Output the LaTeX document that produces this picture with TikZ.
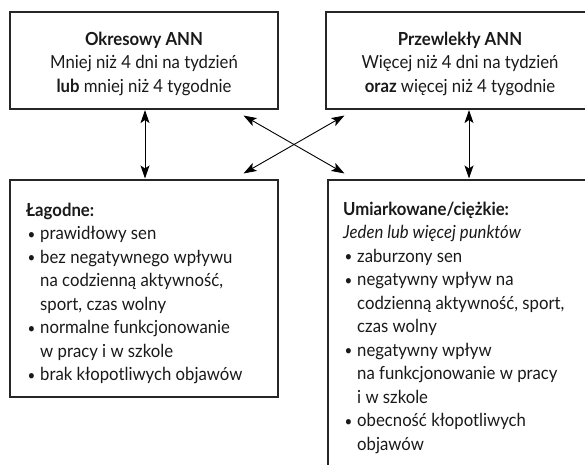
\documentclass[tikz,border=0pt]{standalone}
\usepackage{fontspec}
\setmainfont[FakeStretch=0.93]{Lato}
\usetikzlibrary{arrows.meta,calc}
\newcommand\bul{\makebox[14pt][l]{\hspace*{1.5pt}\raisebox{0.5pt}{\scalebox{0.8}{•}}}}
\newcommand\ind{\hspace*{14pt}}
\begin{document}
\begin{tikzpicture}[x=1pt,y=-1pt,
  box/.style={draw=black!85,line width=1.1pt,inner sep=0pt,minimum width=#1},
  txt/.style={inner sep=0pt,font=\fontsize{18}{23.5}\selectfont,text=black!90},
  conn/.style={line width=0.9pt,{Stealth[length=13pt,width=9pt,inset=3pt]}-{Stealth[length=13pt,width=9pt,inset=3pt]}}]
\useasboundingbox (0,0) rectangle (585,464);
\clip (0,0) rectangle (585,464);
% boxes
\node[box=268pt,minimum height=97pt] (tl) at (144,60.5) {};
\node[box=286pt,minimum height=97pt] (tr) at (469,60.5) {};
\node[box=268pt,minimum height=217pt] (bl) at (144,288.5) {};
\node[box=282pt,minimum height=300pt] (br) at (469,330) {};
% texts (base anchor = last line)
\node[txt,align=center,anchor=base] (tlt) at (144,92.3) {\textbf{Okresowy ANN}\\Mniej niż 4 dni na tydzień\\\textbf{lub} mniej niż 4 tygodnie};
\node[txt,align=center,anchor=base] (trt) at (460,92.3) {\textbf{Przewlekły ANN}\\Więcej niż 4 dni na tydzień\\\textbf{oraz} więcej niż 4 tygodnie};
\node[txt,align=left,anchor=base west] (blt) at (26,380.7) {\textbf{Łagodne:}\\
\bul prawidłowy sen\\
\bul bez negatywnego wpływu\\
\ind na codzienną aktywność,\\
\ind sport, czas wolny\\
\bul normalne funkcjonowanie\\
\ind w pracy i w szkole\\
\bul brak kłopotliwych objawów};
\node[txt,align=left,anchor=base west] (brt) at (343,450) {\textbf{Umiarkowane/ciężkie:}\\
\textit{Jeden lub więcej punktów}\\
\bul zaburzony sen\\
\bul negatywny wpływ na\\
\ind codzienną aktywność, sport,\\
\ind czas wolny\\
\bul negatywny wpływ\\
\ind na funkcjonowanie w pracy\\
\ind i w szkole\\
\bul obecność kłopotliwych\\
\ind objawów};
% connectors
\draw[conn] ($(tl.south)+(1,0.5)$) -- ($(bl.north)+(1,-1)$);
\draw[conn] ($(tr.south)+(0,0.5)$) -- ($(br.north)+(0,-1)$);
\draw[conn] ($(tl.south east)+(-35,6)$) -- ($(br.north west)+(17,-6)$);
\draw[conn] ($(tr.south west)+(19,6)$) -- ($(bl.north east)+(-35,-6)$);
\end{tikzpicture}
\end{document}
